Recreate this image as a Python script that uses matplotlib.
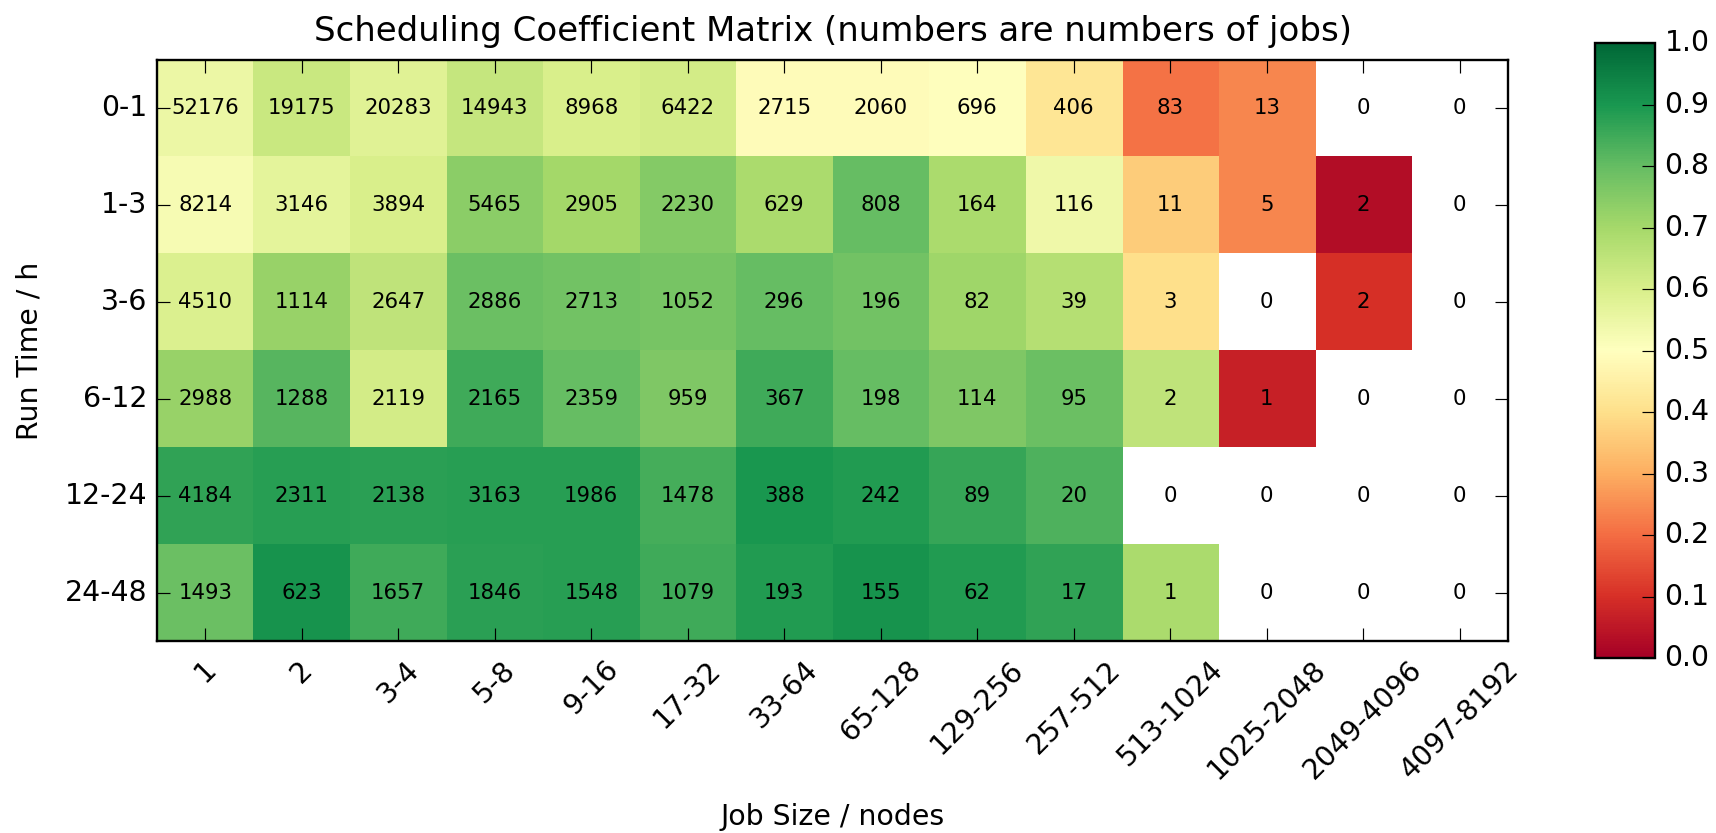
import matplotlib
matplotlib.use('Agg')
import matplotlib.pyplot as plt
import numpy as np

# matriz de coeficientes de planificacion

tamanos = ['1', '2', '3-4', '5-8', '9-16', '17-32', '33-64', '65-128', '129-256',
           '257-512', '513-1024', '1025-2048', '2049-4096', '4097-8192']
tiempos = ['0-1', '1-3', '3-6', '6-12', '12-24', '24-48']

trabajos = np.array([
    [52176, 19175, 20283, 14943, 8968, 6422, 2715, 2060, 696, 406, 83, 13, 0, 0],
    [8214, 3146, 3894, 5465, 2905, 2230, 629, 808, 164, 116, 11, 5, 2, 0],
    [4510, 1114, 2647, 2886, 2713, 1052, 296, 196, 82, 39, 3, 0, 2, 0],
    [2988, 1288, 2119, 2165, 2359, 959, 367, 198, 114, 95, 2, 1, 0, 0],
    [4184, 2311, 2138, 3163, 1986, 1478, 388, 242, 89, 20, 0, 0, 0, 0],
    [1493, 623, 1657, 1846, 1548, 1079, 193, 155, 62, 17, 1, 0, 0, 0],
])

coeficientes = np.array([
    [0.55, 0.63, 0.58, 0.64, 0.60, 0.61, 0.49, 0.49, 0.50, 0.42, 0.21, 0.24, 0.0, 0.0],
    [0.52, 0.57, 0.60, 0.74, 0.70, 0.75, 0.69, 0.80, 0.69, 0.54, 0.36, 0.24, 0.03, 0.0],
    [0.59, 0.72, 0.65, 0.79, 0.78, 0.77, 0.80, 0.78, 0.71, 0.67, 0.40, 0.0, 0.10, 0.0],
    [0.72, 0.82, 0.61, 0.85, 0.80, 0.76, 0.85, 0.80, 0.76, 0.79, 0.65, 0.07, 0.0, 0.0],
    [0.87, 0.88, 0.875, 0.88, 0.88, 0.84, 0.90, 0.89, 0.86, 0.83, 0.0, 0.0, 0.0, 0.0],
    [0.79, 0.91, 0.85, 0.875, 0.88, 0.85, 0.89, 0.91, 0.89, 0.87, 0.69, 0.0, 0.0, 0.0],
])

plt.style.use('classic')
plt.rcParams['xtick.major.size'] = 5.5
plt.rcParams['ytick.major.size'] = 5.5

fig = plt.figure(figsize=(1716 / 170, 833 / 170), dpi=170, facecolor='white')
ax = fig.add_axes([0.0915, 0.2305, 0.7873, 0.6975])
cax = fig.add_axes([0.9295, 0.210, 0.035, 0.738])

datos = np.ma.masked_where(trabajos == 0, coeficientes)
cmap = plt.get_cmap('RdYlGn').copy()
cmap.set_bad('white')
im = ax.imshow(datos, cmap=cmap, vmin=0, vmax=1, interpolation='nearest', aspect='auto')

for i in range(len(tiempos)):
    for j in range(len(tamanos)):
        ax.text(j, i, str(trabajos[i, j]), ha='center', va='center', fontsize=9, color='black')

ax.set_xticks(range(len(tamanos)))
ax.set_xticklabels(tamanos, rotation=45)
ax.set_yticks(range(len(tiempos)))
ax.set_yticklabels(tiempos)
ax.set_xlim(-0.5, len(tamanos) - 0.5)
ax.set_ylim(len(tiempos) - 0.5, -0.5)
ax.tick_params(axis='x', pad=6)

ax.set_title("Scheduling Coefficient Matrix (numbers are numbers of jobs)", pad=8)
ax.set_xlabel("Job Size / nodes", labelpad=8)
ax.set_ylabel("Run Time / h", labelpad=9)

cb = fig.colorbar(im, cax=cax)
cb.set_ticks(np.arange(0, 1.01, 0.1))

fig.savefig('out.png', dpi=170, facecolor='white')
